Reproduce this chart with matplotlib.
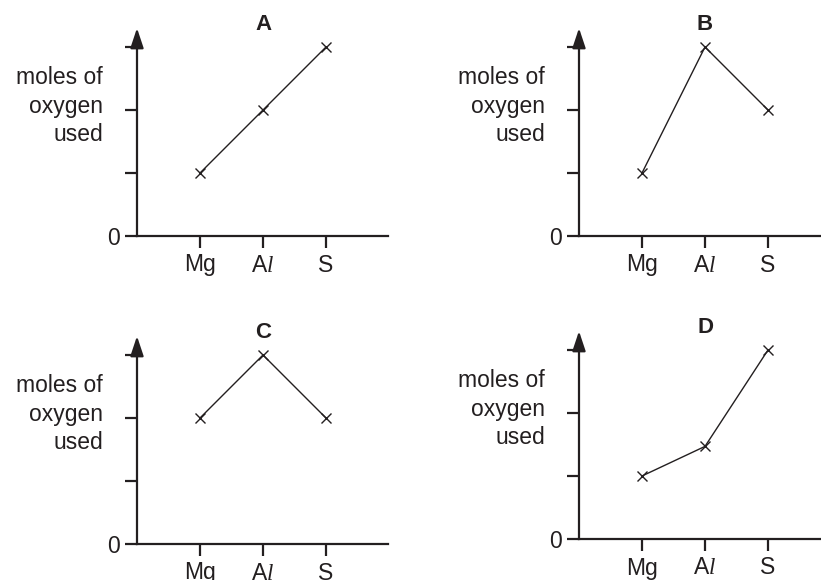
import matplotlib
matplotlib.use("Agg")
from matplotlib import pyplot as plt

plt.rcParams['font.family'] = ['Liberation Sans', 'DejaVu Sans']
plt.rcParams['mathtext.fontset'] = 'custom'
plt.rcParams['mathtext.it'] = 'Liberation Serif:italic'

ink = '#231f20'
W, H = 821, 580

elements = ['Mg', r'A$\mathit{l}$', 'S']
element_pos = [1, 2, 3]
graph_a = [1, 2, 3]
graph_b = [1, 3, 2]
graph_c = [2, 3, 2]
graph_d = [1, 1.47, 3]
ytick_vals = [0, 1, 2, 3]
ytick_labels = ['0', '', '', '']

# panel layout in pixels: (letter, values, axis x, zero y, right end)
panels = [
    ('A', graph_a, 137, 236, 388),
    ('B', graph_b, 579, 236, 821),
    ('C', graph_c, 137, 544, 388),
    ('D', graph_d, 579, 539, 821),
]
unit = 63.0
ytop = 3.1

fig = plt.figure(figsize=(W / 100, H / 100), dpi=100)

for letter, vals, x0, y0, x1 in panels:
    ax = fig.add_axes([x0 / W, (H - y0) / H, (x1 - x0) / W, ytop * unit / H])
    ax.set_xlim(0, (x1 - x0) / unit)
    ax.set_ylim(0, ytop)
    ax.patch.set_alpha(0)
    for s in ['top', 'right']:
        ax.spines[s].set_visible(False)
    for s in ['left', 'bottom']:
        ax.spines[s].set_linewidth(1.6)
        ax.spines[s].set_color(ink)

    ax.plot(element_pos, vals, color=ink, lw=1.0, marker='x', ms=6.5, mew=1.0,
            clip_on=False)

    ax.set_xticks(element_pos)
    ax.set_xticklabels(elements)
    ax.set_yticks(ytick_vals)
    ax.set_yticklabels(ytick_labels)
    ax.tick_params(axis='both', direction='out', length=8.6, width=1.6,
                   color=ink, labelcolor=ink, labelsize=16.5, pad=4)

    # arrow head on the y axis
    ax.annotate('', xy=(0, 3.3), xytext=(0, 3.0), xycoords='data',
                arrowprops=dict(arrowstyle='-|>,head_length=0.6,head_width=0.2',
                                lw=1.6, color=ink, mutation_scale=20,
                                shrinkA=0, shrinkB=0),
                annotation_clip=False)

    ax.text(2, 3.35, letter, ha='center', va='center', fontsize=16,
            fontweight='bold', color=ink, clip_on=False)
    ax.text(-34 / unit, 2.06, 'moles of\noxygen\nused', ha='right', va='center',
            fontsize=16.5, color=ink, linespacing=1.3, clip_on=False)

fig.savefig('out.png', dpi=100)
